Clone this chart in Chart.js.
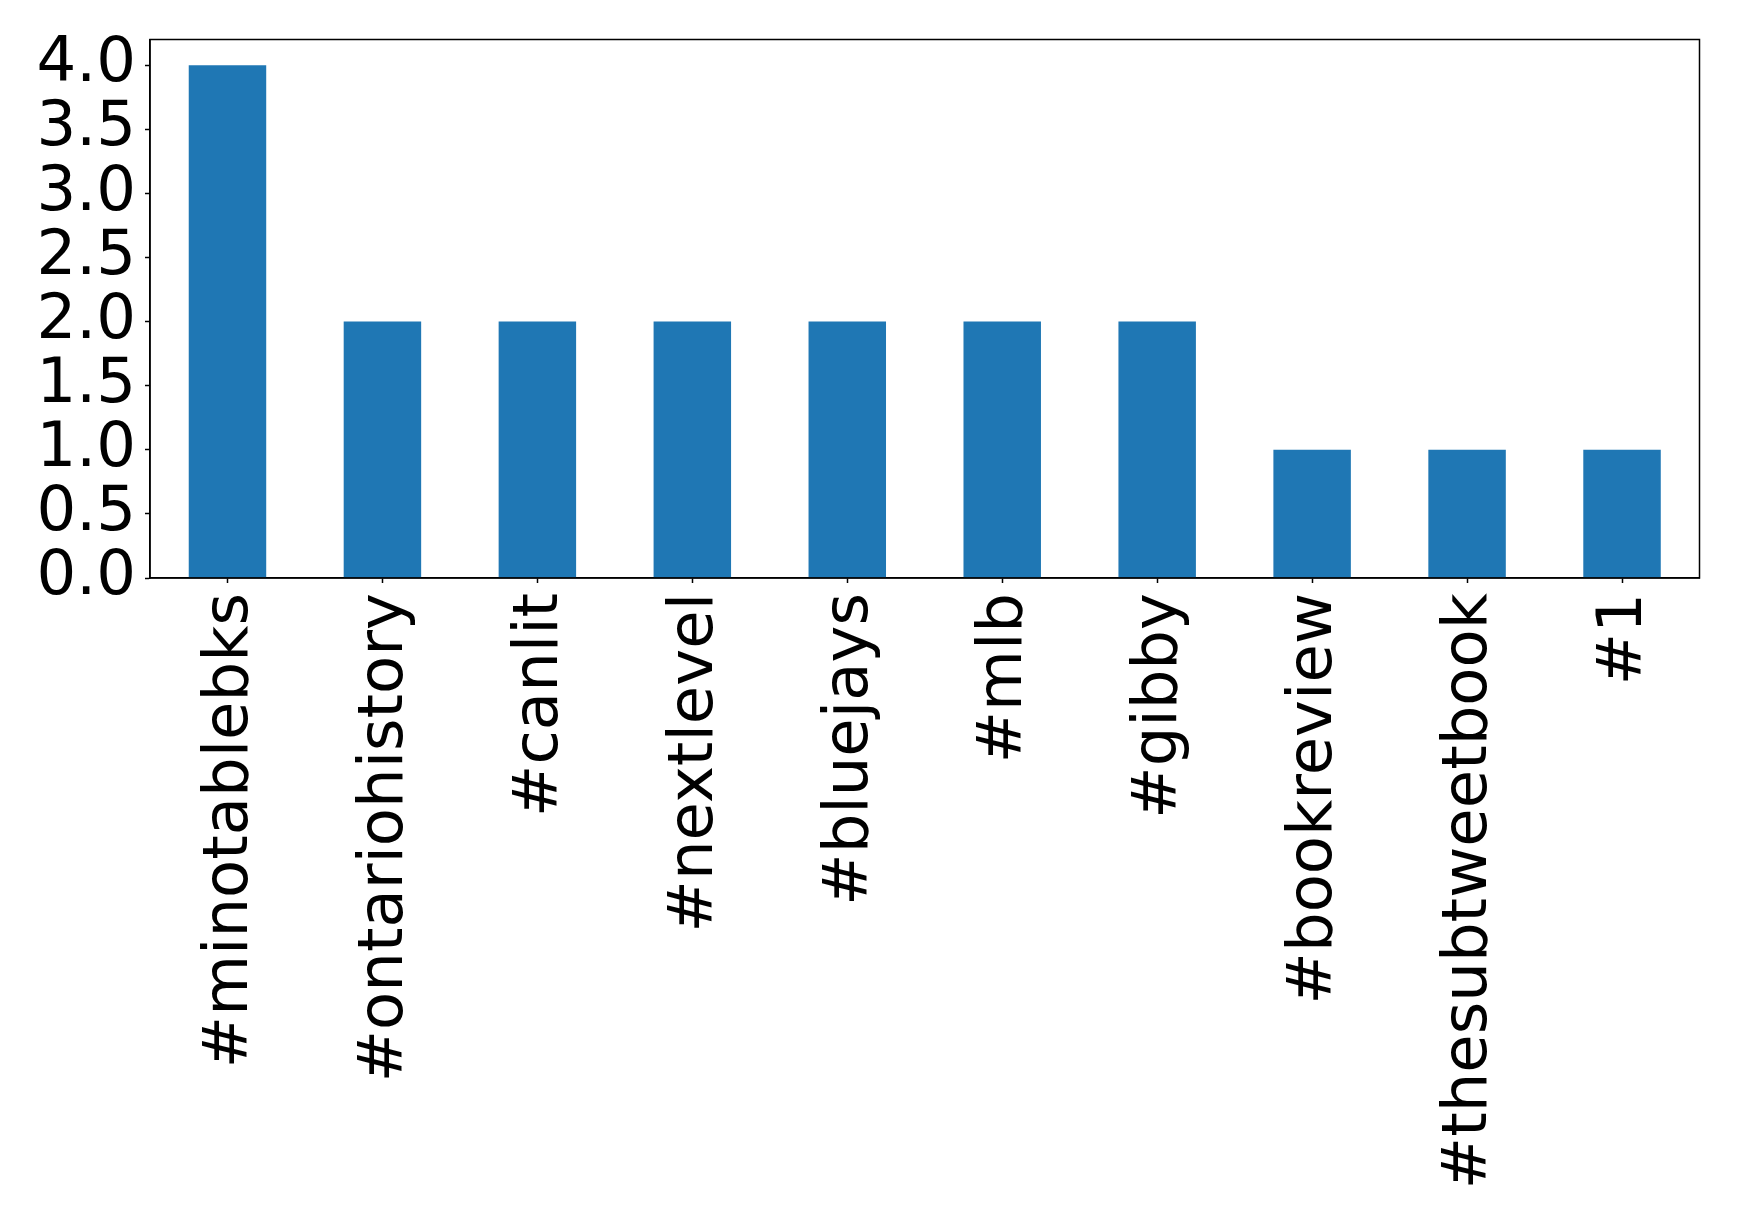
<!DOCTYPE html>
<html>
<head>
<meta charset="utf-8">
<script src="https://cdn.jsdelivr.net/npm/chart.js@4.4.1/dist/chart.umd.min.js"></script>
<style>
  html, body { margin: 0; padding: 0; background: #fff; }
  #wrap { width: 1739px; height: 1224px; }
</style>
</head>
<body>
<div id="wrap"><canvas id="hashtags"></canvas></div>
<script>
// hashtag counts
var tags = ['#minotablebks', '#ontariohistory', '#canlit', '#nextlevel', '#bluejays',
            '#mlb', '#gibby', '#bookreview', '#thesubtweetbook', '#1'];
var counts = [4, 2, 2, 2, 2, 2, 2, 1, 1, 1];
var yTicks = [0, 0.5, 1, 1.5, 2, 2.5, 3, 3.5, 4];

var fontFam = "'DejaVu Sans', sans-serif";

// matplotlib style box around the plot area
var frameBox = {
	id: 'frameBox',
	afterDraw: function(chart) {
		var a = chart.chartArea, ctx = chart.ctx;
		ctx.save();
		ctx.strokeStyle = '#000';
		ctx.lineWidth = 1.5;
		ctx.strokeRect(a.left, a.top, a.right - a.left, a.bottom - a.top);
		ctx.restore();
	}
};

new Chart(document.getElementById('hashtags'), {
	type: 'bar',
	data: {
		labels: tags,
		datasets: [{
			data: counts,
			backgroundColor: '#1f77b4',
			borderWidth: 0,
			barPercentage: 0.5,
			categoryPercentage: 1.0
		}]
	},
	options: {
		responsive: true,
		maintainAspectRatio: false,
		animation: false,
		layout: { padding: { top: 39.5, right: 39.5, left: 0, bottom: 0 } },
		plugins: { legend: { display: false }, tooltip: { enabled: false } },
		scales: {
			x: {
				grid: { display: true, offset: false, drawOnChartArea: false, tickLength: 5, color: '#000', tickWidth: 1.5 },
				border: { display: true, color: '#000', width: 1.5 },
				ticks: {
					color: '#000',
					font: { family: fontFam, size: 62.5 },
					minRotation: 90,
					maxRotation: 90,
					autoSkip: false,
					padding: 10,
					labelOffset: 3
				},
				afterFit: function(scale) {
					scale.height = 1224 - 578;
					scale.paddingLeft = 0;
					scale.paddingRight = 0;
				}
			},
			y: {
				min: 0,
				max: 4.2,
				grid: { display: true, drawOnChartArea: false, tickLength: 5, color: '#000', tickWidth: 1.5 },
				border: { display: true, color: '#000', width: 1.5 },
				ticks: {
					color: '#000',
					font: { family: fontFam, size: 62.5 },
					padding: 9,
					autoSkip: false,
					callback: function(v) { return Number(v).toFixed(1); }
				},
				afterBuildTicks: function(scale) {
					scale.ticks = yTicks.map(function(v) { return { value: v }; });
				},
				afterFit: function(scale) {
					scale.width = 150;
					scale.paddingTop = 0;
					scale.paddingBottom = 0;
				}
			}
		}
	},
	plugins: [frameBox]
});
</script>
</body>
</html>
